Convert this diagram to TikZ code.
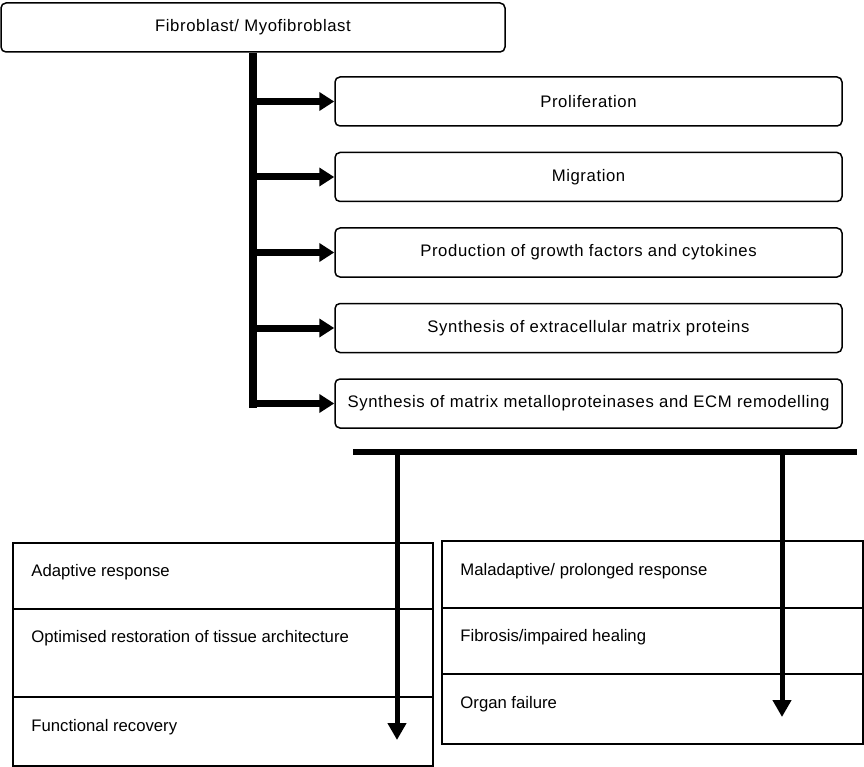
\documentclass[tikz,border=0pt]{standalone}
\usepackage{fontspec}
\setmainfont{Liberation Sans}
\usetikzlibrary{arrows.meta,positioning}

\tikzset{
  roundbox/.style={draw, line width=1.5pt, rounded corners=5pt, minimum width=507pt, minimum height=49pt, inner sep=0pt, font=\fontsize{16.7}{20}\selectfont\addfontfeature{LetterSpace=3.6}},
  cellbox/.style={draw, line width=1.5pt, inner sep=0pt},
  celltext/.style={anchor=west, inner sep=0pt},
  trunkline/.style={line width=8pt},
  fatarrow/.style={line width=7pt, -{Triangle[length=15pt,width=18pt]}},
  downarrow/.style={line width=5pt, -{Triangle[length=17pt,width=18pt]}},
}

\begin{document}
\begin{tikzpicture}[x=1pt, y=-1pt, font=\fontsize{16.7}{20}\selectfont]
    \useasboundingbox (0,0) rectangle (864,767);

    \node[roundbox, minimum width=504pt] (fib) at (253,27.5) {Fibroblast/ Myofibroblast};

    \node[roundbox] (prolif) at (588.5,101.5) {Proliferation};
    \node[roundbox, below=25pt of prolif] (migr) {Migration};
    \node[roundbox, below=25pt of migr] (growth) {Production of growth factors and cytokines};
    \node[roundbox, below=25pt of growth] (ecm) {Synthesis of extracellular matrix proteins};
    \node[roundbox, below=25pt of ecm] (mmp) {Synthesis of matrix metalloproteinases and ECM remodelling};

    % left column of outcomes
    \node[cellbox, minimum width=420pt, minimum height=66pt] (adapt) at (223,576) {};
    \node[cellbox, minimum width=420pt, minimum height=88pt] (optim) at (223,653) {};
    \node[cellbox, minimum width=420pt, minimum height=69pt] (recov) at (223,731.5) {};
    \node[celltext] at ([xshift=19pt,yshift=-30pt]adapt.north west) {Adaptive response};
    \node[celltext] at ([xshift=19pt,yshift=-30pt]optim.north west) {Optimised restoration of tissue architecture};
    \node[celltext] at ([xshift=19pt,yshift=-31pt]recov.north west) {Functional recovery};

    % right column of outcomes
    \node[cellbox, minimum width=421pt, minimum height=67pt] (malad) at (652.5,574.5) {};
    \node[cellbox, minimum width=421pt, minimum height=66pt] (fibro) at (652.5,641) {};
    \node[cellbox, minimum width=421pt, minimum height=70pt] (organ) at (652.5,709) {};
    \node[celltext] at ([xshift=19pt,yshift=-31pt]malad.north west) {Maladaptive/ prolonged response};
    \node[celltext] at ([xshift=19pt,yshift=-30pt]fibro.north west) {Fibrosis/impaired healing};
    \node[celltext] at ([xshift=19pt,yshift=-31pt]organ.north west) {Organ failure};

    % trunk and branches
    \draw[trunkline] (fib.south) |- ([xshift=-4pt]fib.south |- mmp.west);
    \draw[fatarrow] ([xshift=-4pt]fib.south |- mmp.west) -- (mmp.west);
    \draw[fatarrow] (fib.south |- prolif.west) -- (prolif.west);
    \draw[fatarrow] (fib.south |- migr.west) -- (migr.west);
    \draw[fatarrow] (fib.south |- growth.west) -- (growth.west);
    \draw[fatarrow] (fib.south |- ecm.west) -- (ecm.west);

    % bar and the two outcome arrows
    \coordinate (barL) at (353,452);
    \coordinate (barR) at (857,452);
    \coordinate (goodend) at (397,740);
    \coordinate (badend) at (782,717);
    \draw[line width=6pt] (barL) -- (barR);
    \draw[downarrow] (barL -| goodend) -- (goodend);
    \draw[downarrow] (barL -| badend) -- (badend);
\end{tikzpicture}
\end{document}
